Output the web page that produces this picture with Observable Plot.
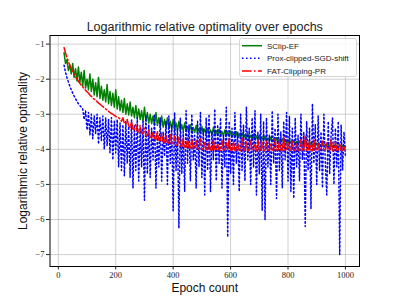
<!DOCTYPE html>
<html><head><meta charset="utf-8">
<script src="https://cdn.jsdelivr.net/npm/d3@7"></script>
<script src="https://cdn.jsdelivr.net/npm/@observablehq/plot@0.6"></script>
<style>body{margin:0;background:#fff} #chart{width:399px;height:299px}</style>
</head><body><div id="chart"></div>
<script>
// epochs sampled every 5 from 20 to 1000
const epochs = d3.range(20, 1001, 5);

const sclipEF = [
-1.25,-1.55,-1.45,-1.75,-1.6,-1.85,-1.55,-1.95,-1.7,-2.05,-1.65,-2.1,-1.8,-2.2,-1.75,-2.25,-2.0,-2.3,-1.85,-2.35,
-2.0,-2.45,-2.1,-2.5,-1.95,-2.55,-2.2,-2.6,-2.3,-2.65,-2.15,-2.7,-2.35,-2.75,-2.4,-2.8,-2.3,-2.85,-2.5,-2.9,
-2.6,-2.95,-2.55,-3.0,-2.7,-3.02,-2.65,-3.05,-2.8,-3.1,-2.75,-3.12,-2.85,-3.15,-2.9,-3.2,-2.8,-3.2,-2.95,-3.25,
-3.0,-3.27,-3.05,-3.3,-2.95,-3.32,-3.1,-3.35,-3.05,-3.37,-3.15,-3.38,-3.1,-3.4,-3.2,-3.42,-3.15,-3.43,-3.25,-3.45,
-3.2,-3.46,-3.3,-3.47,-3.25,-3.48,-3.35,-3.5,-3.3,-3.5,-3.38,-3.52,-3.32,-3.53,-3.4,-3.54,-3.35,-3.55,-3.42,-3.56,
-3.4,-3.57,-3.45,-3.58,-3.38,-3.59,-3.47,-3.6,-3.42,-3.6,-3.5,-3.61,-3.45,-3.62,-3.5,-3.63,-3.48,-3.64,-3.53,-3.65,
-3.5,-3.66,-3.56,-3.67,-3.52,-3.68,-3.58,-3.69,-3.55,-3.7,-3.6,-3.71,-3.57,-3.72,-3.62,-3.73,-3.6,-3.74,-3.65,-3.75,
-3.62,-3.76,-3.68,-3.77,-3.65,-3.78,-3.7,-3.79,-3.67,-3.8,-3.72,-3.8,-3.7,-3.81,-3.74,-3.82,-3.72,-3.83,-3.76,-3.84,
-3.75,-3.85,-3.78,-3.86,-3.76,-3.86,-3.8,-3.87,-3.78,-3.88,-3.82,-3.88,-3.8,-3.89,-3.83,-3.9,-3.82,-3.9,-3.85,-3.91,
-3.84,-3.91,-3.86,-3.92,-3.85,-3.92,-3.88,-3.93,-3.87,-3.93,-3.89,-3.94,-3.88,-3.94,-3.9,-3.95,-3.92
];

const proxClipped = [
-1.6,-1.8,-1.95,-2.08,-2.2,-2.3,-2.4,-2.48,-2.56,-2.63,-2.7,-2.75,-2.8,-2.85,-3.15,-2.9,-3.45,-2.95,-3.6,-3.0,
-3.7,-3.05,-3.55,-3.0,-3.85,-3.1,-3.75,-3.05,-4.0,-3.1,-3.9,-3.15,-4.1,-3.1,-4.3,-3.2,-4.1,-3.15,-4.5,-3.25,
-4.6,-3.3,-4.75,-3.2,-4.4,-3.35,-4.8,-3.15,-5.1,-3.3,-4.6,-3.1,-4.9,-3.4,-4.5,-3.2,-5.45,-3.05,-4.7,-3.3,
-4.8,-3.4,-4.3,-3.0,-5.1,-3.6,-4.5,-3.1,-4.9,-3.5,-4.2,-3.2,-5.0,-3.05,-4.4,-3.3,-5.75,-2.95,-4.6,-3.4,
-6.25,-3.1,-4.7,-3.5,-5.2,-2.9,-4.4,-3.3,-4.9,-3.0,-4.3,-3.6,-5.1,-3.2,-4.5,-2.95,-4.8,-3.4,-5.3,-3.1,
-4.6,-3.0,-5.2,-3.5,-4.3,-2.85,-4.9,-3.3,-4.4,-3.1,-5.1,-3.6,-4.5,-2.8,-6.5,-3.2,-4.7,-3.4,-5.0,-2.95,
-4.4,-3.5,-5.2,-3.0,-4.6,-3.3,-4.9,-2.8,-4.3,-3.4,-5.0,-3.1,-4.5,-2.9,-5.3,-3.5,-4.7,-3.0,-5.75,-3.2,
-6.0,-3.1,-4.5,-3.6,-5.0,-2.9,-4.4,-3.4,-5.4,-3.0,-4.6,-3.5,-5.1,-3.2,-4.3,-2.95,-4.9,-3.05,-5.2,-3.4,
-5.4,-3.1,-4.5,-3.6,-4.9,-3.0,-4.3,-3.5,-6.2,-3.2,-4.6,-3.4,-5.7,-2.7,-4.4,-3.3,-5.0,-3.05,-4.6,-3.5,
-5.1,-3.0,-4.4,-5.3,-3.2,-4.7,-3.6,-3.1,-5.0,-3.4,-4.5,-3.2,-7.0,-3.3,-4.6,-3.5,-4.2
];

const fatClipping = [
-1.1,-1.25,-1.38,-1.5,-1.6,-1.7,-1.78,-1.86,-1.93,-2.0,-2.06,-2.12,-2.17,-2.22,-2.27,-2.32,-2.36,-2.4,-2.45,-2.49,
-2.53,-2.57,-2.6,-2.64,-2.68,-2.71,-2.75,-2.78,-2.82,-2.85,-2.88,-2.92,-2.95,-2.98,-3.0,-3.03,-3.06,-3.08,-3.1,-3.13,
-3.2,-3.1,-3.26,-3.28,-3.15,-3.33,-3.38,-3.22,-3.42,-3.44,-3.28,-3.48,-3.5,-3.32,-3.54,-3.56,-3.4,-3.6,-3.62,-3.45,
-3.65,-3.67,-3.5,-3.69,-3.71,-3.48,-3.74,-3.75,-3.55,-3.78,-3.79,-3.6,-3.81,-3.83,-3.58,-3.85,-3.86,-3.62,-3.88,-3.89,
-3.65,-3.9,-3.92,-3.7,-3.93,-3.94,-3.68,-3.95,-3.96,-3.72,-3.97,-3.97,-3.75,-3.98,-3.99,-3.7,-3.99,-4.0,-3.78,-4.01,
-4.01,-3.8,-4.02,-4.02,-3.72,-4.03,-4.01,-3.85,-4.02,-4.03,-3.75,-4.02,-4.04,-3.82,-4.02,-3.7,-4.03,-4.02,-3.78,-4.03,
-4.02,-3.83,-4.03,-4.04,-3.68,-4.02,-4.03,-3.8,-4.04,-4.02,-3.74,-4.03,-4.02,-3.86,-4.04,-3.72,-4.03,-4.02,-3.8,-4.04,
-4.02,-3.76,-4.03,-4.04,-3.84,-4.02,-4.03,-3.7,-4.02,-4.04,-3.78,-4.03,-4.02,-3.65,-4.03,-4.04,-3.8,-4.02,-4.03,-3.74,
-4.04,-4.02,-3.82,-4.03,-4.04,-3.72,-4.02,-4.03,-3.6,-4.04,-4.02,-3.78,-4.03,-4.04,-3.7,-4.02,-4.03,-3.84,-4.04,-4.02,
-3.76,-4.03,-4.04,-3.82,-4.02,-4.03,-3.7,-4.04,-4.02,-3.8,-4.03,-4.04,-3.85,-4.02,-4.03,-3.9,-4.04
];

const seriesNames = ["SClip-EF", "Prox-clipped-SGD-shift", "FAT-Clipping-PR"];
const seriesColors = ["green", "blue", "red"];
const seriesDash = [null, "1.5,2.5", "9.6,2.4,1.5,2.4"];
const xTicks = [0, 200, 400, 600, 800, 1000];
const yTicks = [-1, -2, -3, -4, -5, -6, -7];
const titleText = "Logarithmic relative optimality over epochs";
const xLabel = "Epoch count";
const yLabel = "Logarithmic relative optimality";

const seriesValues = [sclipEF, proxClipped, fatClipping];
const tables = seriesValues.map(vals => epochs.map((e, i) => ({epoch: e, value: vals[i]})));

const fmt = d => (d < 0 ? "\u2212" : "") + Math.abs(d);
const sans = "'Liberation Sans', Arial, sans-serif";
const serif = "'Liberation Serif', 'Times New Roman', serif";

const lineMarks = tables.map((t, k) => Plot.line(t, {
  x: "epoch", y: "value", stroke: seriesColors[k], strokeWidth: 1.5,
  strokeDasharray: seriesDash[k] || undefined, strokeLinejoin: "round"
}));

const chart = Plot.plot({
  width: 399, height: 299,
  marginLeft: 49.5, marginRight: 40, marginTop: 35, marginBottom: 33,
  style: {background: "#fff", overflow: "visible"},
  x: {domain: [-29, 1049]},
  y: {domain: [-7.34, -0.755]},
  marks: [
    Plot.gridX(xTicks, {stroke: "#b0b0b0", strokeOpacity: 0.6, strokeWidth: 1}),
    Plot.gridY(yTicks, {stroke: "#b0b0b0", strokeOpacity: 0.6, strokeWidth: 1}),
    ...lineMarks,
    Plot.frame({stroke: "#000", strokeWidth: 1}),
    Plot.axisX(xTicks, {tickSize: 3.5, tickPadding: 2, tickFormat: fmt, label: null, fontFamily: serif, fontSize: 8.5, color: "#222"}),
    Plot.axisY(yTicks, {tickSize: 3.5, tickPadding: 2, tickFormat: fmt, label: null, fontFamily: serif, fontSize: 8.5, color: "#222"}),
    Plot.text([titleText], {text: d => d, frameAnchor: "top", dy: -9, lineAnchor: "middle", textAnchor: "middle", fontFamily: sans, fontSize: 12.5, fill: "#222"}),
    Plot.text([xLabel], {text: d => d, frameAnchor: "bottom", dy: 22, lineAnchor: "middle", textAnchor: "middle", fontFamily: sans, fontSize: 12, fill: "#111"}),
    Plot.text([yLabel], {text: d => d, frameAnchor: "left", dx: -27, rotate: -90, lineAnchor: "middle", textAnchor: "middle", fontFamily: sans, fontSize: 12, fill: "#111"})
  ]
});

// legend
const svg = d3.select(chart);
const lg = svg.append("g").attr("class", "legend").attr("text-anchor", "start");
lg.append("rect").attr("x", 239.5).attr("y", 38.5).attr("width", 117).attr("height", 38)
  .attr("rx", 2).attr("fill", "#fff").attr("fill-opacity", 0.85).attr("stroke", "#ccc").attr("stroke-width", 0.8);
seriesNames.forEach((name, k) => {
  const yy = 45.7 + k * 12.6;
  lg.append("line").attr("x1", 242).attr("x2", 262).attr("y1", yy).attr("y2", yy)
    .attr("stroke", seriesColors[k]).attr("stroke-width", 1.5)
    .attr("stroke-dasharray", seriesDash[k]);
  lg.append("text").attr("x", 267).attr("y", yy).attr("dy", "0.35em").attr("text-anchor", "start")
    .attr("font-family", sans).attr("font-size", 8).attr("fill", "#222").text(name);
});

document.getElementById("chart").appendChild(chart);
</script>
</body></html>
